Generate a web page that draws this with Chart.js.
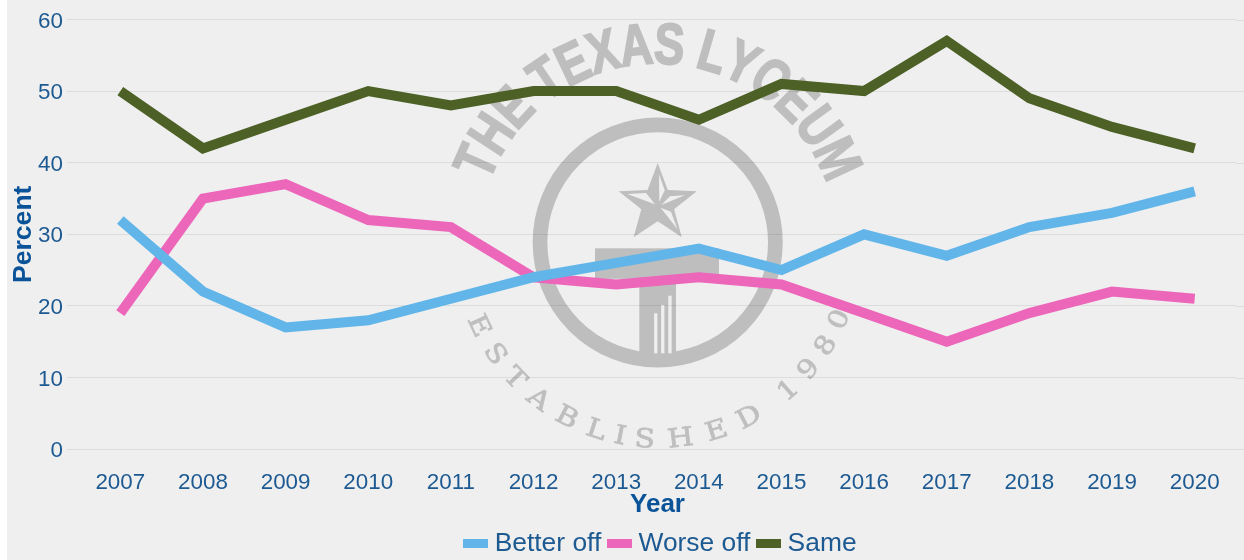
<!DOCTYPE html>
<html>
<head>
<meta charset="utf-8">
<style>html,body{margin:0;padding:0;background:#fff}canvas{display:block}</style>
<script src="https://cdn.jsdelivr.net/npm/chart.js@4/dist/chart.umd.min.js"></script>
</head>
<body>
<canvas id="c" width="1244" height="560" style="width:1244px;height:560px"></canvas>
<script>
const years = ['2007','2008','2009','2010','2011','2012','2013','2014','2015','2016','2017','2018','2019','2020'];
const betterOff = [32,22,17,18,21,24,26,28,25,30,27,31,33,36];
const worseOff = [19,35,37,32,31,24,23,24,23,19,15,19,22,21];
const same = [50,42,46,50,48,50,50,46,51,50,57,49,45,42];
const seriesNames = ['Better off','Worse off','Same'];
const seriesColors = ['#62b5e9','#ec66ba','#4d6127'];
const textColor = '#1d5a92';
const titleColor = '#0b5399';
const gridColor = '#dcdcdc';
const bg = '#efefef';
const sans = '"Liberation Sans", Arial, sans-serif';

function swatch(color){
  const s = document.createElement('canvas');
  s.width = 25; s.height = 9;
  const x = s.getContext('2d');
  x.fillStyle = color; x.fillRect(0,0,25,9);
  return s;
}
function arcText(ctx,text,font,r,a0,a1,bottom,sx,thick){
  ctx.font = font;
  const chars = [...text];
  const w = chars.map(c=>ctx.measureText(c).width*sx);
  let pos=[],t=0;
  chars.forEach((c,i)=>{pos.push(t+w[i]/2);t+=w[i];});
  const first=pos[0],last=pos[pos.length-1];
  chars.forEach((c,i)=>{
    if(c===' ')return;
    const a=(a0+(a1-a0)*(pos[i]-first)/(last-first))*Math.PI/180;
    ctx.save();
    ctx.rotate(a);
    ctx.translate(0,bottom?r:-r);
    ctx.scale(sx,1);
    ctx.textAlign='center';ctx.textBaseline='alphabetic';
    ctx.fillText(c,0,0);
    if(thick){ctx.lineWidth=thick;ctx.lineJoin='miter';ctx.strokeText(c,0,0);}
    ctx.restore();
  });
}
function poly(c,pts){
  c.beginPath();
  pts.forEach((p,i)=>{const x=p[0]/3-67.7,y=p[1]/3-87.5;i?c.lineTo(x,y):c.moveTo(x,y);});
  c.closePath();c.fill();
}
const background = {
  id:'background',
  beforeDraw(chart){
    const c=chart.ctx;
    c.save();c.fillStyle=bg;c.fillRect(7,0,chart.width-7,chart.height);c.restore();
    chart.scales.y.getLabelItems().forEach(it=>{
      if(!it.shifted){it.options.translation[1]+=2;it.shifted=true;}
    });
  }
};
const watermark = {
  id:'watermark',
  beforeDatasetsDraw(chart){
    const main=chart.ctx;
    const a=chart.chartArea;
    main.save();main.strokeStyle=gridColor;main.lineWidth=1;
    chart.scales.y.ticks.forEach(t=>{
      const y=Math.round(chart.scales.y.getPixelForValue(t.value))+0.5;
      main.beginPath();main.moveTo(a.right,y);main.lineTo(chart.width,y);main.stroke();
    });
    main.restore();
    const off=document.createElement('canvas');
    off.width=chart.width;off.height=chart.height;
    const c=off.getContext('2d');
    const cx=(a.left+a.right)/2+0.2, cy=a.top+223;
    c.translate(cx,cy);
    c.fillStyle='#000';c.strokeStyle='#000';
    c.lineWidth=14.7;
    c.beginPath();c.arc(0,0,117.7,0,Math.PI*2);c.stroke();
    const R=41,ry=-38.5;
    c.beginPath();
    for(let i=0;i<10;i++){
      const rr=i%2?R*0.42:R, t=-Math.PI/2+i*Math.PI/5;
      const px=rr*Math.cos(t),py=ry+rr*Math.sin(t);
      i?c.lineTo(px,py):c.moveTo(px,py);
    }
    c.closePath();c.fill();
    c.fillRect(-62.7,5.8,124,30.5);
    c.fillRect(-18.4,30,36.7,81);
    arcText(c,'THE TEXAS LYCEUM','bold 58px '+sans,179,-66,65,false,0.78,2);
    arcText(c,'ESTABLISHED 1980','26px "DejaVu Serif", serif',205,65,-67,true,1.15,0.8);
    c.globalCompositeOperation='destination-out';
    poly(c,[[112,117],[168,114],[195,148]]);
    poly(c,[[207,58],[224,106],[208,140]]);
    poly(c,[[214,150],[240,124],[284,121]]);
    poly(c,[[212,158],[243,170],[262,222]]);
    c.fillRect(-3.6,70.8,3.3,40);
    c.fillRect(3.4,62.5,3.3,48.3);
    c.fillRect(10.6,53.2,3.3,57.6);
    main.save();main.globalAlpha=0.2;main.drawImage(off,0,0);main.restore();
  }
};
const legendShift = {
  id:'legendShift',
  afterLayout(chart){
    const l=chart.legend;
    l.left+=41;l.right+=41;l.top+=7;l.bottom+=7;
  }
};
new Chart(document.getElementById('c'),{
  type:'line',
  plugins:[background,watermark,legendShift],
  data:{
    labels:years,
    datasets:[betterOff,worseOff,same].map((d,i)=>({
      label:seriesNames[i],data:d,borderColor:seriesColors[i],backgroundColor:seriesColors[i],
      borderWidth:10,borderJoinStyle:'miter',borderCapStyle:'butt',pointRadius:0,tension:0,fill:false
    }))
  },
  options:{
    responsive:false,animation:false,
    layout:{padding:{left:8,right:8,top:19.5,bottom:0}},
    plugins:{
      tooltip:{enabled:false},
      legend:{
        position:'bottom',
        labels:{
          usePointStyle:true,pointStyleWidth:12,boxHeight:9,padding:12,color:textColor,
          font:{family:sans,size:26.4},
          generateLabels(chart){
            return chart.data.datasets.map((d,i)=>({
              text:d.label,pointStyle:swatch(d.borderColor),fontColor:textColor,
              fillStyle:d.borderColor,strokeStyle:d.borderColor,lineWidth:0,datasetIndex:i
            }));
          }
        }
      }
    },
    scales:{
      x:{
        offset:true,
        grid:{display:false,drawTicks:false},
        border:{display:false},
        ticks:{color:textColor,font:{family:sans,size:22.4},padding:20,maxRotation:0,autoSkip:false},
        title:{display:true,text:'Year',color:titleColor,font:{family:sans,size:26,weight:'bold'},padding:{top:0,bottom:-9}},
        afterFit(s){s.height=62.5;}
      },
      y:{
        min:0,max:60,
        grid:{color:gridColor,tickColor:gridColor,lineWidth:1,tickLength:12,drawTicks:true},
        border:{display:false},
        ticks:{stepSize:10,color:textColor,font:{family:sans,size:22.4},padding:4},
        title:{display:true,text:'Percent',color:titleColor,font:{family:sans,size:26.6,weight:'bold'},padding:{top:0,bottom:0}},
        afterFit(s){s.width=71;}
      }
    }
  }
});
</script>
</body>
</html>
